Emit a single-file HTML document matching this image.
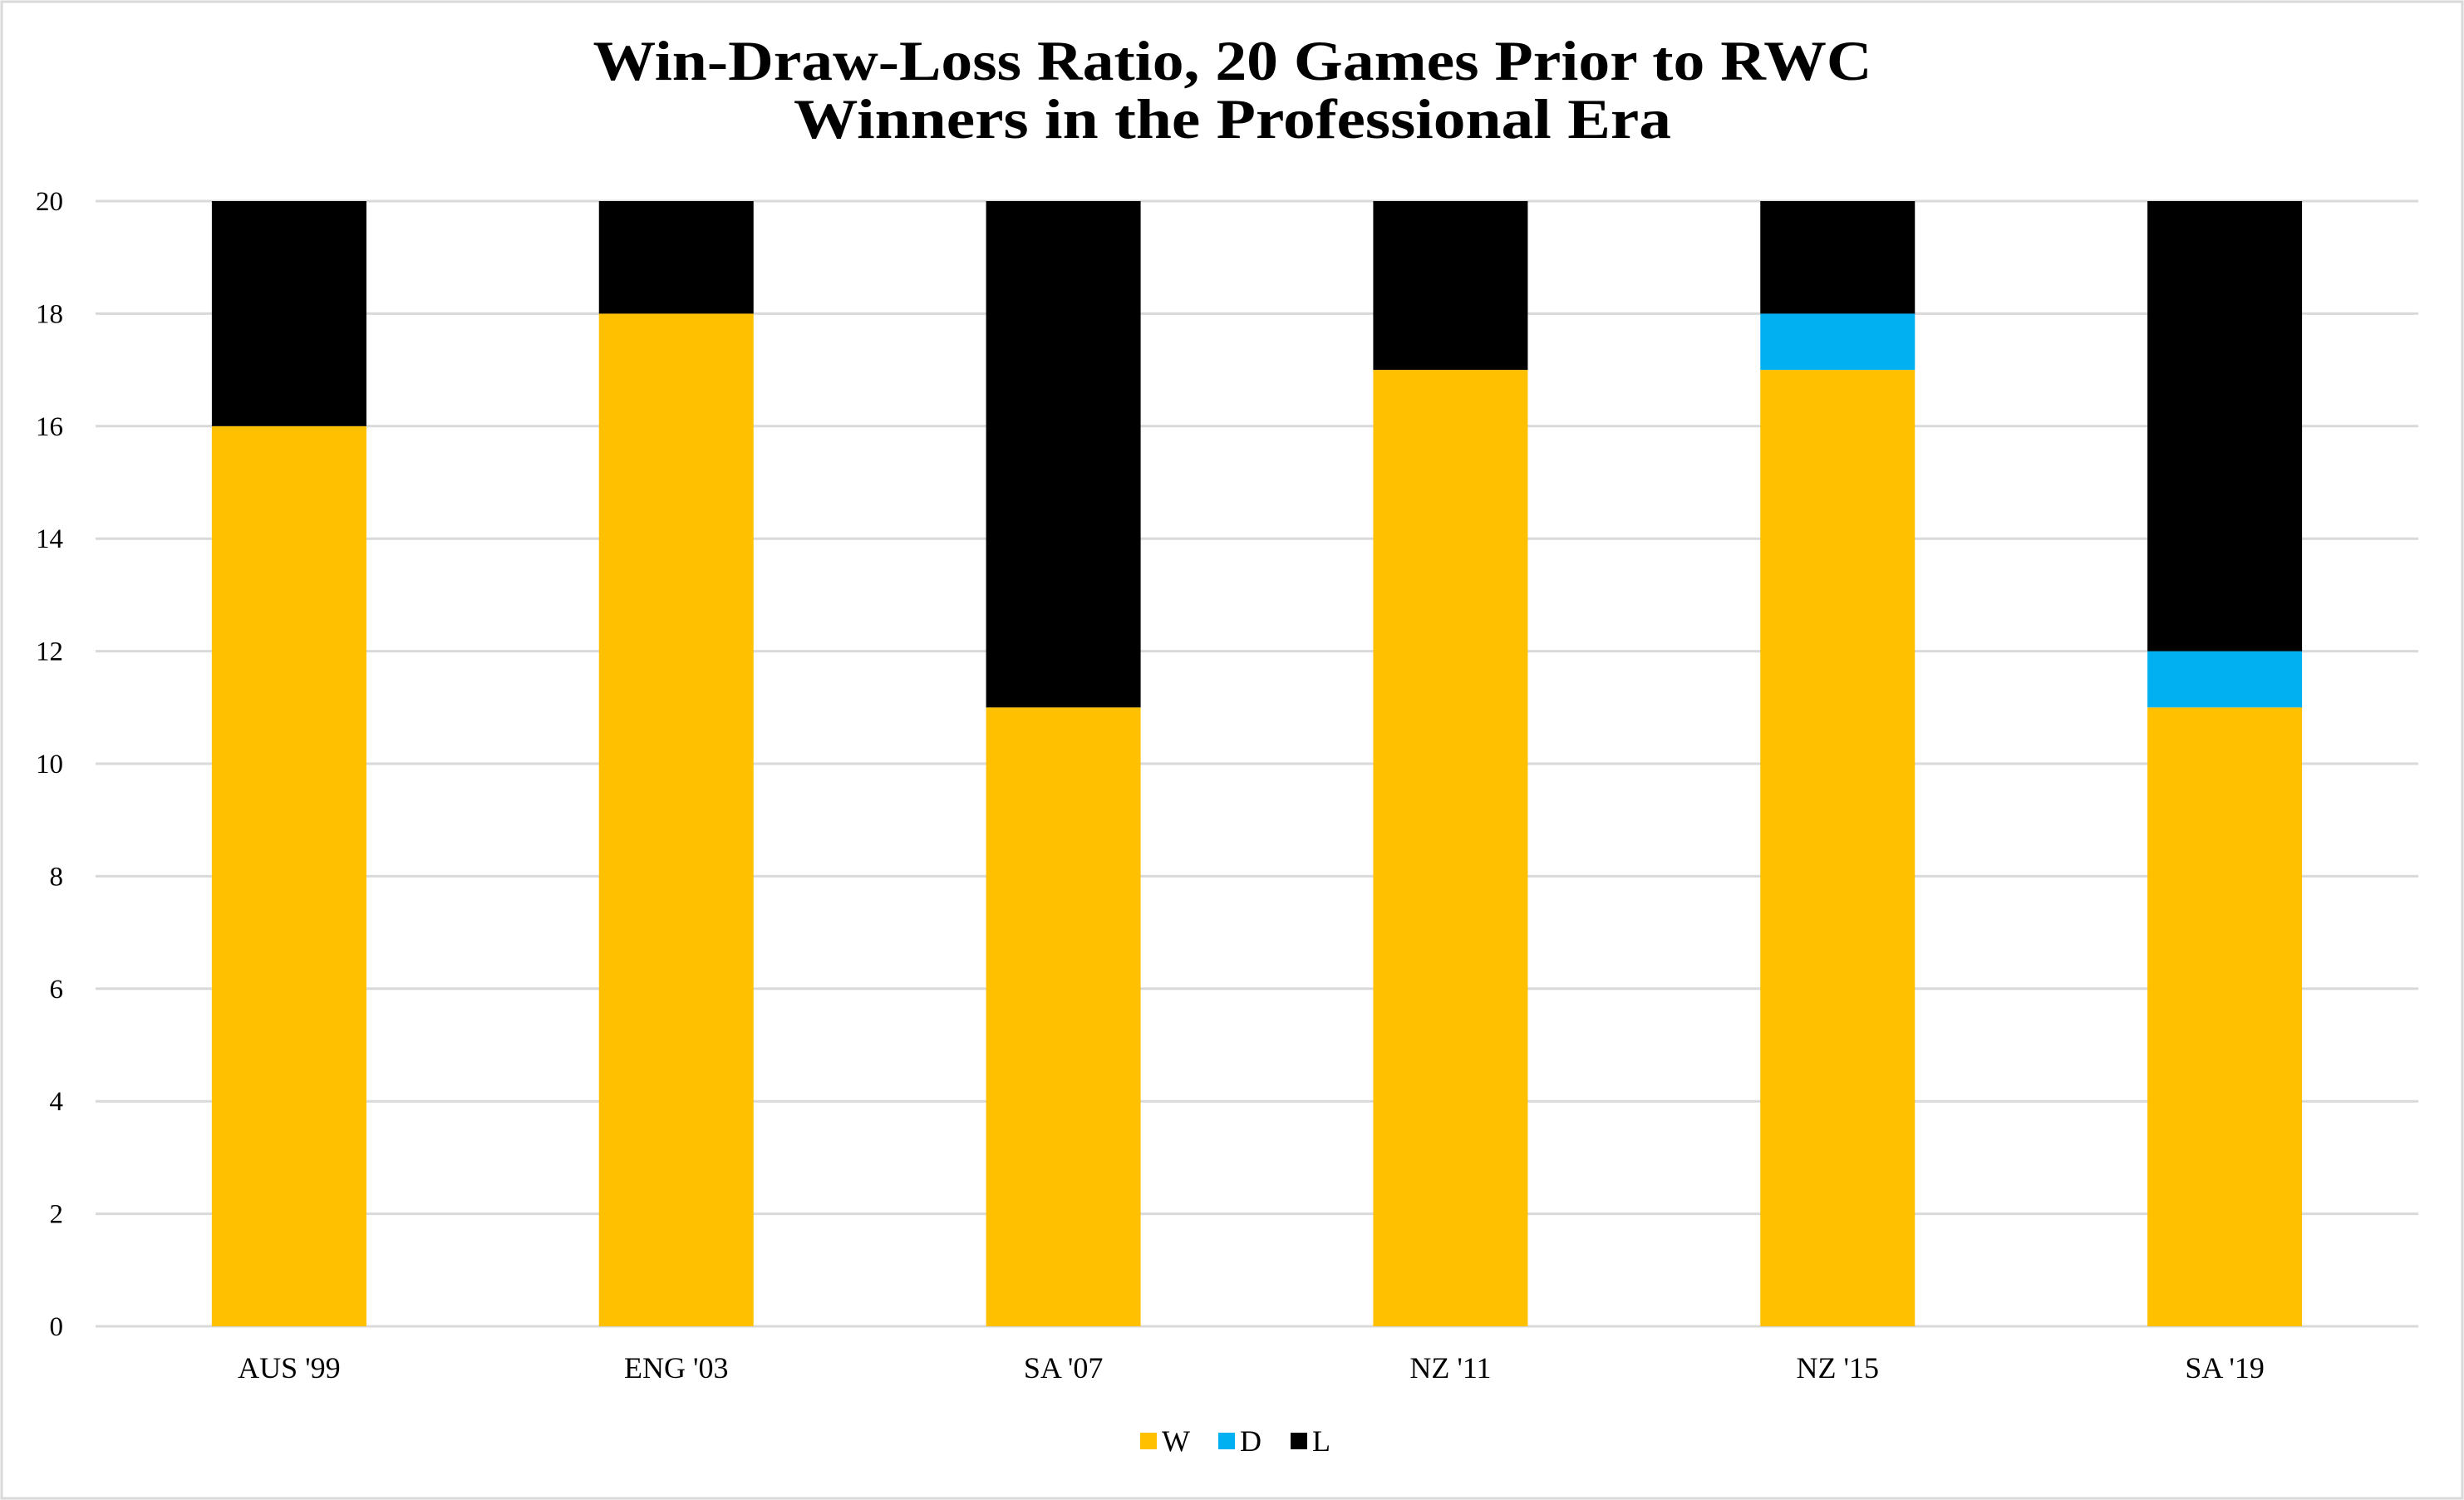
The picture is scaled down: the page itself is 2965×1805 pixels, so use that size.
<!DOCTYPE html>
<html><head><meta charset="utf-8"><style>
html,body{margin:0;padding:0;background:#fff}
svg{display:block}
text{font-family:"Liberation Serif",serif;fill:#000}
</style></head><body>
<svg id="chart" width="2965" height="1805" viewBox="0 0 2965 1805">
<rect x="2" y="2" width="2961" height="1801" fill="#fff" stroke="#d9d9d9" stroke-width="3"/>
<text x="1483" y="96" text-anchor="middle" font-size="68" font-weight="bold" textLength="1539" lengthAdjust="spacingAndGlyphs">Win-Draw-Loss Ratio, 20 Games Prior to RWC</text>
<text x="1483" y="166" text-anchor="middle" font-size="68" font-weight="bold" textLength="1056" lengthAdjust="spacingAndGlyphs">Winners in the Professional Era</text>
<g id="grid"></g><g id="bars"></g><g id="labels"></g>
<g>
<rect x="1372" y="1724" width="20" height="20" fill="#ffc000"/>
<text x="1398" y="1746" font-size="36">W</text>
<rect x="1466" y="1724" width="20" height="20" fill="#00b0f0"/>
<text x="1492" y="1746" font-size="36">D</text>
<rect x="1553" y="1724" width="20" height="20" fill="#000"/>
<text x="1579" y="1746" font-size="36">L</text>
</g>
</svg>
<script>
const categories=["AUS '99","ENG '03","SA '07","NZ '11","NZ '15","SA '19"];
const wins=[16,18,11,17,17,11];
const draws=[0,0,0,0,1,1];
const losses=[4,2,9,3,2,8];
const yTicks=[0,2,4,6,8,10,12,14,16,18,20];
const NS="http://www.w3.org/2000/svg";
const plotLeft=115,plotRight=2910,plotTop=242,plotBottom=1596,yMax=20;
const band=(plotRight-plotLeft)/categories.length,barW=186;
const yScale=v=>plotBottom-(v/yMax)*(plotBottom-plotTop);
const xc=i=>plotLeft+band*(i+0.5);
function mk(tag,attrs,parent){const e=document.createElementNS(NS,tag);for(const k in attrs)e.setAttribute(k,attrs[k]);parent.appendChild(e);return e;}
const grid=document.getElementById('grid'),bars=document.getElementById('bars'),labels=document.getElementById('labels');
yTicks.forEach(t=>{
 const l=mk('line',{x1:plotLeft,x2:plotRight,y1:yScale(t),y2:yScale(t),stroke:'#d9d9d9','stroke-width':3},grid);
 
 
 const tx=mk('text',{x:76,y:yScale(t)+11,'text-anchor':'end','font-size':33},labels);
 tx.textContent=t;
 
 
});
const series=[[wins,'#ffc000','w'],[draws,'#00b0f0','d'],[losses,'#000000','l']];
categories.forEach((c,i)=>{
 let base=0;
 series.forEach(([vals,col,k])=>{
  const v=vals[i];
  if(v>0){
   const r=mk('rect',{x:xc(i)-barW/2,y:yScale(base+v),width:barW,height:yScale(base)-yScale(base+v),fill:col},bars);
   
   
  }
  base+=v;
 });
 const tx=mk('text',{x:xc(i),y:1658,'text-anchor':'middle','font-size':36},labels);
 tx.textContent=c;
 
 
});
</script>
</body></html>
